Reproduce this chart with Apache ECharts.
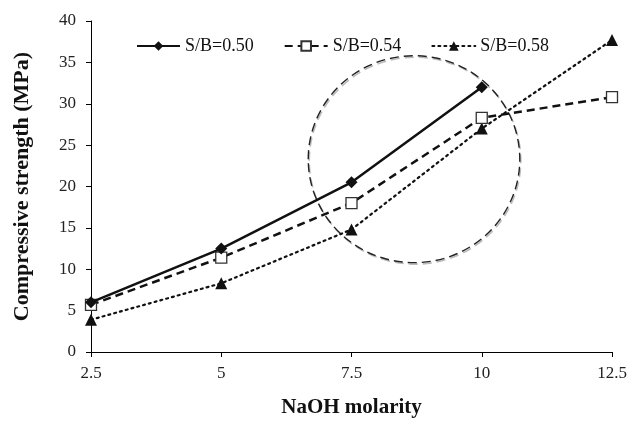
<!DOCTYPE html>
<html>
<head>
<meta charset="utf-8">
<script src="https://cdn.jsdelivr.net/npm/echarts@6/dist/echarts.min.js"></script>
<style>
  html, body { margin: 0; padding: 0; background: #fff; }
  #main { width: 630px; height: 423px; }
</style>
</head>
<body>
<div id="main"></div>
<script>
// NaOH molarity (x values)
const molarity = [2.5, 5, 7.5, 10, 12.5];
// compressive strength, MPa
const sb050 = [6.0, 12.5, 20.5, 32.0];
const sb054 = [5.7, 11.4, 18.0, 28.3, 30.8];
const sb058 = [3.9, 8.3, 14.8, 27.0, 37.7];
const seriesNames = ['S/B=0.50', 'S/B=0.54', 'S/B=0.58'];
// highlight ellipse: centre (molarity, MPa) and radii in data units
const ringCentre = [8.7, 23.3];
const ringRadius = [2.03, 12.5];

const pairs = (vals) => vals.map((v, i) => [molarity[i], v]);
const font = 'Liberation Serif';

const chart = echarts.init(document.getElementById('main'), null, { renderer: 'canvas' });

chart.setOption({
  animation: false,
  backgroundColor: '#fff',
  grid: { left: 91, right: 18, top: 21, bottom: 70 },
  legend: {
    top: 32,
    left: 131,
    itemGap: 30,
    itemWidth: 43,
    itemHeight: 12,
    textStyle: { fontFamily: font, fontSize: 18, color: '#111' },
    data: seriesNames
  },
  xAxis: {
    type: 'value',
    min: 2.5,
    max: 12.5,
    interval: 2.5,
    name: 'NaOH molarity',
    nameLocation: 'middle',
    nameGap: 45,
    nameTextStyle: { fontFamily: font, fontSize: 21, fontWeight: 'bold', color: '#111' },
    axisLine: { lineStyle: { color: '#000', width: 1 } },
    axisTick: { show: true, length: 5, lineStyle: { color: '#000' } },
    axisLabel: { fontFamily: font, fontSize: 17, color: '#222', margin: 13 },
    splitLine: { show: false }
  },
  yAxis: {
    type: 'value',
    min: 0,
    max: 40,
    interval: 5,
    name: 'Compressive strength (MPa)',
    nameLocation: 'middle',
    nameGap: 58,
    nameTextStyle: { fontFamily: font, fontSize: 22, fontWeight: 'bold', color: '#111' },
    axisLine: { show: true, lineStyle: { color: '#000', width: 1 } },
    axisTick: { show: true, length: 5, lineStyle: { color: '#000' } },
    axisLabel: { fontFamily: font, fontSize: 17, color: '#222', margin: 15 },
    splitLine: { show: false }
  },
  series: [
    {
      name: seriesNames[0],
      type: 'line',
      data: pairs(sb050),
      symbol: 'diamond',
      symbolSize: 12,
      itemStyle: { color: '#111' },
      lineStyle: { color: '#111', width: 2.5, type: 'solid' },
      z: 4
    },
    {
      name: seriesNames[1],
      type: 'line',
      data: pairs(sb054),
      symbol: 'rect',
      symbolSize: 11,
      itemStyle: { color: '#fff', borderColor: '#333', borderWidth: 1.3 },
      lineStyle: { color: '#111', width: 2.5, type: [8, 5] },
      z: 3
    },
    {
      name: seriesNames[2],
      type: 'line',
      data: pairs(sb058),
      symbol: 'triangle',
      symbolSize: 12,
      itemStyle: { color: '#111' },
      lineStyle: { color: '#111', width: 2.2, type: [2, 4], cap: 'round' },
      z: 2
    }
  ]
});

// dashed highlight ring, placed from data coordinates
function drawRing() {
  const c = chart.convertToPixel({ gridIndex: 0 }, ringCentre);
  const ex = chart.convertToPixel({ gridIndex: 0 }, [ringCentre[0] + ringRadius[0], ringCentre[1] + ringRadius[1]]);
  const rx = ex[0] - c[0];
  const ry = c[1] - ex[1];
  chart.setOption({
    graphic: [
      {
        type: 'ellipse', silent: true, z: 1,
        shape: { cx: c[0] + 1, cy: c[1] + 1.5, rx: rx, ry: ry },
        style: { fill: 'none', stroke: '#bbb', lineWidth: 1.6, lineDash: [9, 5] }
      },
      {
        type: 'ellipse', silent: true, z: 1,
        shape: { cx: c[0], cy: c[1], rx: rx, ry: ry },
        style: { fill: 'none', stroke: '#222', lineWidth: 1.4, lineDash: [9, 5] }
      }
    ]
  });
}
drawRing();
</script>
</body>
</html>
